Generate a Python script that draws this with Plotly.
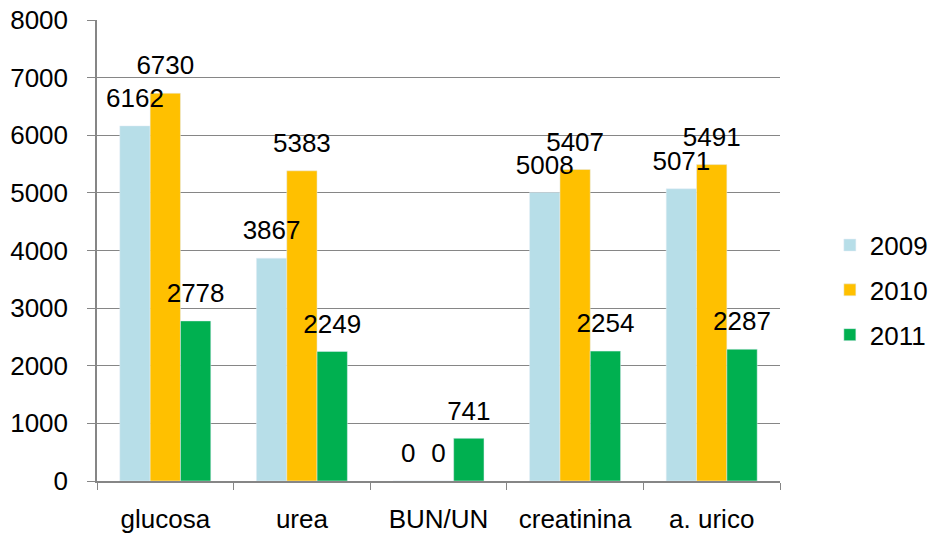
import plotly.graph_objects as go

categories = ["glucosa", "urea", "BUN/UN", "creatinina", "a. urico"]
v2009 = [6162, 3867, 0, 5008, 5071]
v2010 = [6730, 5383, 0, 5407, 5491]
v2011 = [2778, 2249, 741, 2254, 2287]
series_names = ["2009", "2010", "2011"]
colors = ["#B7DEE8", "#FFC000", "#00B050"]

FONT = "Liberation Sans, Arial"
FS = 26
LABEL_LIFT = 170  # visual gap between bar top and its label (in axis units)

fig = go.Figure()
series = list(zip(series_names, [v2009, v2010, v2011], colors))
for name, vals, col in series:
    fig.add_trace(go.Bar(
        x=categories, y=vals, name=name, marker_color=col, legendgroup=name,
        offsetgroup=name,
    ))
# data labels drawn on top of all bars
for name, vals, col in series:
    fig.add_trace(go.Bar(
        x=categories, y=[v + LABEL_LIFT for v in vals], name=name,
        offsetgroup=name, showlegend=False, hoverinfo="skip",
        marker=dict(color="rgba(0,0,0,0)", line=dict(width=0)),
        text=[str(v) for v in vals], textposition="outside",
        textangle=0, constraintext="none", cliponaxis=False,
        textfont=dict(family=FONT, size=FS, color="#000000"),
    ))

fig.update_layout(
    barmode="group", bargap=0.334, bargroupgap=0,
    width=933, height=536,
    margin=dict(l=97, r=153, t=20, b=55, autoexpand=False),
    plot_bgcolor="white", paper_bgcolor="white",
    font=dict(family=FONT, size=FS, color="#000000"),
    legend=dict(x=1.073, y=0.414, yanchor="middle", xanchor="left",
                font=dict(size=FS), tracegroupgap=8, itemwidth=30,
                traceorder="grouped"),
    xaxis=dict(showline=True, linecolor="#868686", linewidth=1.5,
               ticks="outside", tickson="boundaries", ticklen=7,
               tickcolor="#868686", tickfont=dict(size=FS),
               ticklabelstandoff=14, automargin=False),
    yaxis=dict(range=[0, 8000], dtick=1000, showgrid=True, gridcolor="#868686",
               gridwidth=1.3, showline=True, linecolor="#868686", linewidth=1.5,
               ticks="outside", ticklen=8, tickcolor="#868686",
               tickfont=dict(size=FS), zeroline=False, ticklabelstandoff=14,
               automargin=False, ticklabeloverflow="allow"),
)
fig.write_html("out.html",
               config={"displayModeBar": False},
               post_script="document.body.style.margin='0';document.body.style.overflow='hidden';")
